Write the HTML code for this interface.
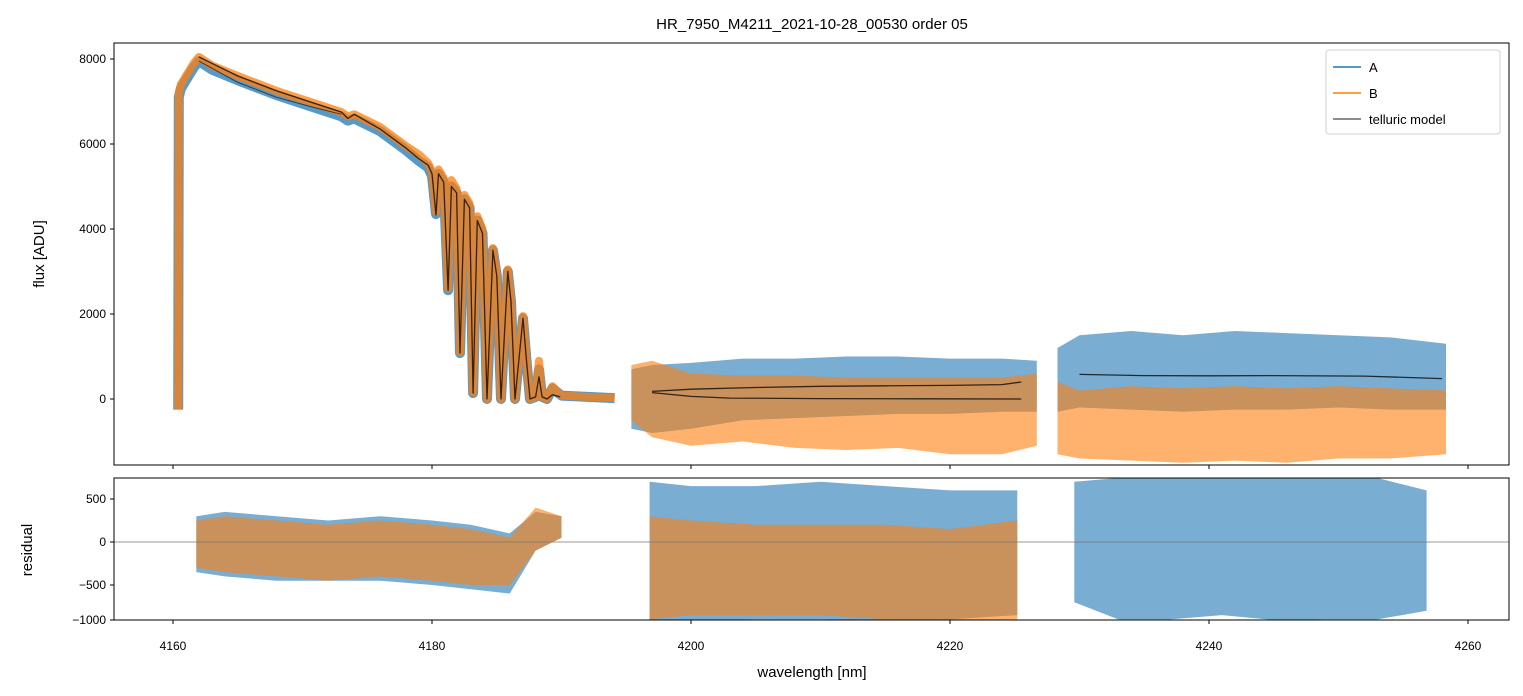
<!DOCTYPE html>
<html><head><meta charset="utf-8"><style>
body{margin:0;background:#fff;}
svg{display:block;font-family:"Liberation Sans","DejaVu Sans",sans-serif;}
</style></head><body>
<svg id="c" width="1523" height="696" viewBox="0 0 1523 696"></svg>
<script>
const seg1W = [4160.40,4160.45,4160.6,4161,4161.6,4162,4163,4165,4168,4171,4173,4173.5,4174,4176,4178,4179,4179.7,4180.0,4180.31,4180.5,4180.9,4181.24,4181.5,4181.9,4182.16,4182.5,4182.9,4183.17,4183.5,4183.9,4184.25,4184.7,4185.0,4185.33,4185.85,4186.1,4186.41,4187.03,4187.3,4187.57,4188.0,4188.26,4188.5,4188.88,4189.3,4190,4192,4194.1];
const seg1A = [-250,7100,7300,7500,7800,7950,7750,7500,7150,6850,6650,6550,6600,6300,5850,5600,5450,5250,4350,5300,5100,2560,5000,4850,1080,4700,4500,140,4200,3900,0,3500,2900,0,3000,2300,0,1900,900,0,50,700,50,0,250,80,50,20];
const seg1B = [-250,7200,7400,7600,7900,8050,7850,7600,7250,6950,6750,6650,6700,6400,5950,5750,5550,5350,4400,5400,5200,2600,5150,4950,1100,4800,4600,150,4300,4000,0,3550,2950,0,3050,2350,0,1950,950,0,50,900,50,0,300,80,50,20];
const model1W = [4162.0,4165,4168,4171,4173,4173.5,4174,4176,4178,4179,4179.7,4180.0,4180.31,4180.5,4180.9,4181.24,4181.5,4181.9,4182.16,4182.5,4182.9,4183.17,4183.5,4183.9,4184.25,4184.7,4185.0,4185.33,4185.85,4186.1,4186.41,4187.03,4187.3,4187.57,4188.0,4188.26,4188.5,4188.88,4189.3,4189.9];
const model1V = [8050,7600,7250,6950,6750,6600,6700,6350,5900,5650,5500,5300,4330,5300,5100,2560,5000,4850,1080,4700,4500,140,4200,3900,0,3500,2900,0,3000,2300,0,1900,900,0,50,520,50,0,100,50];
const model1bW = [4162.0,4165,4168,4171,4173];
const model1bV = [7950,7450,7100,6850,6700];
const seg2W = [4195.4,4197,4200,4204,4208,4212,4216,4220,4224,4226.7];
const seg2AHi = [700,800,850,950,950,1000,1000,950,950,900];
const seg2ALo = [-700,-800,-700,-500,-450,-400,-350,-350,-300,-300];
const seg2BHi = [800,900,600,550,550,500,500,500,500,600];
const seg2BLo = [-500,-900,-1100,-1000,-1150,-1200,-1150,-1300,-1300,-1100];
const seg3W = [4228.3,4230,4234,4238,4242,4246,4250,4254,4258.3];
const seg3AHi = [1200,1500,1600,1500,1600,1550,1500,1450,1300];
const seg3ALo = [-300,-200,-250,-300,-250,-250,-200,-250,-250];
const seg3BHi = [400,200,300,250,300,250,300,250,200];
const seg3BLo = [-1300,-1400,-1450,-1500,-1450,-1500,-1400,-1400,-1300];
const model2aW = [4197,4200,4205,4210,4215,4220,4224,4225.5];
const model2aV = [180,230,270,300,310,320,340,400];
const model2bW = [4197,4200,4203,4210,4218,4225.5];
const model2bV = [150,60,20,10,5,0];
const model3W = [4230,4235,4240,4245,4252,4258];
const model3V = [580,550,545,550,540,480];
const res1W = [4161.8,4164,4168,4172,4176,4180,4183,4186,4188,4190];
const res1AHi = [300,350,300,250,300,250,200,100,350,300];
const res1ALo = [-350,-400,-450,-450,-450,-500,-550,-600,-100,50];
const res1BHi = [250,300,250,200,250,200,150,50,400,300];
const res1BLo = [-300,-350,-400,-450,-400,-450,-500,-500,-100,50];
const res2W = [4196.8,4200,4205,4210,4215,4220,4225.2];
const res2AHi = [700,650,650,700,650,600,600];
const res2ALo = [-950,-950,-900,-900,-950,-900,-850];
const res2BHi = [300,250,200,200,200,150,250];
const res2BLo = [-900,-850,-850,-850,-900,-950,-900];
const res3W = [4229.6,4233,4237,4241,4245,4249,4253,4256.8];
const res3AHi = [700,744,744,744,744,744,744,600];
const res3ALo = [-700,-900,-900,-850,-950,-900,-900,-800];
const xTicks = [4160,4180,4200,4220,4240,4260];
const yTopTicks = [0,2000,4000,6000,8000];
const yBotTicks = [500,0,-500,-1000];

const X0=114,X1=1509, TT=43,TB=465, BT=478,BB=620;
const xs = w => 173 + (w-4160)*12.95;
const yt = v => 399 - v*0.0425;
const yb = v => Math.max(BT, Math.min(BB, 542 - v*0.086));
const NS="http://www.w3.org/2000/svg";
const svg=document.getElementById('c');
function mk(tag,attrs,parent){const e=document.createElementNS(NS,tag);for(const k in attrs)e.setAttribute(k,attrs[k]);(parent||svg).appendChild(e);return e;}
const C_A='#1f77b4', C_B='#ff7f0e';

const defs=mk('defs',{});
const cp1=mk('clipPath',{id:'cpt'},defs); mk('rect',{x:X0,y:TT,width:X1-X0,height:TB-TT},cp1);
const cp2=mk('clipPath',{id:'cpb'},defs); mk('rect',{x:X0,y:BT,width:X1-X0,height:BB-BT},cp2);
const gT=mk('g',{'clip-path':'url(#cpt)'});


const gB=mk('g',{'clip-path':'url(#cpb)'});



function line(W,V,ys,stroke,width,op,parent,name){
  const d=W.map((w,i)=>(i?'L':'M')+xs(w).toFixed(1)+','+ys(V[i]).toFixed(1)).join('');
  const p=mk('path',{d:d,fill:'none',stroke:stroke,'stroke-width':width,opacity:op,'stroke-linejoin':'round'},parent);
  
  
}
function band(W,Hi,Lo,ys,fill,op,parent,name){
  let d=W.map((w,i)=>(i?'L':'M')+xs(w).toFixed(1)+','+ys(Hi[i]).toFixed(1)).join('');
  for(let i=W.length-1;i>=0;i--) d+='L'+xs(W[i]).toFixed(1)+','+ys(Lo[i]).toFixed(1);
  const p=mk('path',{d:d+'Z',fill:fill,opacity:op},parent);
  
  
}
line(seg1W,seg1A,yt,C_A,10,0.75,gT,'series-a-seg1');
line(seg1W,seg1B,yt,C_B,8,0.75,gT,'series-b-seg1');
band(seg2W,seg2AHi,seg2ALo,yt,C_A,0.6,gT,'series-a-seg2');
band(seg2W,seg2BHi,seg2BLo,yt,C_B,0.6,gT,'series-b-seg2');
band(seg3W,seg3AHi,seg3ALo,yt,C_A,0.6,gT,'series-a-seg3');
band(seg3W,seg3BHi,seg3BLo,yt,C_B,0.6,gT,'series-b-seg3');
line(model1W,model1V,yt,'#000',1.3,0.75,gT,'telluric-model-seg1');
line(model1bW,model1bV,yt,'#000',1,0.6,gT,'telluric-model-seg1b');
line(model2aW,model2aV,yt,'#000',1.3,0.75,gT,'telluric-model-seg2a');
line(model2bW,model2bV,yt,'#000',1.3,0.75,gT,'telluric-model-seg2b');
line(model3W,model3V,yt,'#000',1.3,0.75,gT,'telluric-model-seg3');
band(res1W,res1AHi,res1ALo,yb,C_A,0.6,gB,'residual-a-seg1');
band(res1W,res1BHi,res1BLo,yb,C_B,0.6,gB,'residual-b-seg1');
band(res2W,res2AHi,res2ALo,yb,C_A,0.6,gB,'residual-a-seg2');
band(res2W,res2BHi,res2BLo,yb,C_B,0.6,gB,'residual-b-seg2');
band(res3W,res3AHi,res3ALo,yb,C_A,0.6,gB,'residual-a-seg3');
const zl=mk('line',{x1:X0,x2:X1,y1:yb(0),y2:yb(0),stroke:'#777','stroke-width':0.8});



const f1=mk('rect',{x:X0,y:TT,width:X1-X0,height:TB-TT,fill:'none',stroke:'#000','stroke-width':1});


const f2=mk('rect',{x:X0,y:BT,width:X1-X0,height:BB-BT,fill:'none',stroke:'#000','stroke-width':1});



function text(x,y,s,size,anchor,name,rot){
  const t=mk('text',{x:x,y:y,'font-size':size,'text-anchor':anchor,fill:'#000'});
  if(rot)t.setAttribute('transform',`rotate(-90 ${x} ${y})`);
  t.textContent=s;
  
  
}
xTicks.forEach(v=>{
  const x=xs(v);
  mk('line',{x1:x,x2:x,y1:TB,y2:TB+4,stroke:'#000'});
  mk('line',{x1:x,x2:x,y1:BB,y2:BB+4,stroke:'#000'});
  text(x,BB+30,String(v),12,'middle','x-tick-label');
});
yTopTicks.forEach(v=>{
  const y=yt(v);
  mk('line',{x1:X0-4,x2:X0,y1:y,y2:y,stroke:'#000'});
  text(X0-8,y+4,String(v),12,'end','y-tick-label');
});
yBotTicks.forEach(v=>{
  const y=yb(v);
  mk('line',{x1:X0-4,x2:X0,y1:y,y2:y,stroke:'#000'});
  text(X0-8,y+4,v<0?'\u2212'+(-v):String(v),12,'end','residual-tick-label');
});
text(812,29,'HR_7950_M4211_2021-10-28_00530  order 05',15,'middle','chart-title');
text(812,677,'wavelength [nm]',15,'middle','x-axis-title');
text(44,254,'flux [ADU]',15,'middle','y-axis-title',true);
text(32,550,'residual',15,'middle','residual-axis-title',true);

const lg=mk('g',{});


mk('rect',{x:1326,y:50,width:174,height:84,rx:3,fill:'#fff',stroke:'#ccc',opacity:0.9},lg);
[['A',C_A,1,67],['B',C_B,1,93],['telluric model','#000',0.6,119]].forEach(([lab,col,op,y])=>{
  const l=mk('line',{x1:1333,x2:1361,y1:y,y2:y,stroke:col,'stroke-width':1.5,opacity:op},lg);
  
  
  const t=mk('text',{x:1369,y:y+5,'font-size':13,fill:'#000'},lg);
  t.textContent=lab;
  
  
});
</script>
</body></html>
